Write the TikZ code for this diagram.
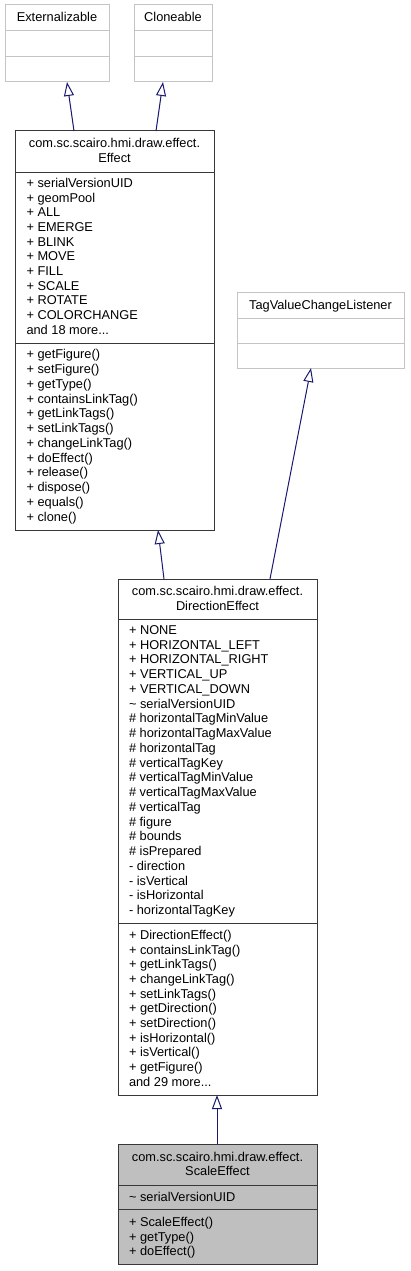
\documentclass[tikz,border=0pt]{standalone}
\usepackage{fontspec}
\setmainfont{Liberation Sans}
\usetikzlibrary{arrows.meta,calc}
\definecolor{navyc}{HTML}{191970}
\definecolor{boxgray}{HTML}{BFBFBF}
\definecolor{ifgray}{HTML}{C4C4C4}
\newcommand{\ellipdots}{...}
\begin{document}
\begin{tikzpicture}[x=1pt,y=-1pt,
  every node/.style={font=\fontsize{12.8}{14.7}\selectfont, inner sep=0pt, outer sep=0pt},
  classbox/.style={draw=black!78, line width=1pt, fill=white, rectangle, anchor=north west},
  ifacebox/.style={draw=ifgray, line width=1pt, fill=white, rectangle, anchor=north west},
  cdiv/.style={draw=black!78, line width=1pt},
  idiv/.style={draw=ifgray, line width=1pt},
  member/.style={anchor=base west},
  ttl/.style={anchor=base},
  inherit/.style={draw=navyc, line width=1pt, -{Triangle[open, length=14pt, width=10pt]}}]
\useasboundingbox (0,0) rectangle (410,1271);

% interfaces
\node[ifacebox, minimum width=104pt, minimum height=77pt] (ext) at (5,5) {};
\draw[idiv] (5,31) -- (109,31) (5,57) -- (109,57);
\node[ttl] (extT) at (57,22) {Externalizable};

\node[ifacebox, minimum width=78pt, minimum height=77pt] (clo) at (134,5) {};
\draw[idiv] (134,31) -- (212,31) (134,57) -- (212,57);
\node[ttl] (cloT) at (173,22) {Cloneable};

\node[ifacebox, minimum width=167pt, minimum height=76pt] (tag) at (237,292) {};
\draw[idiv] (237,318) -- (404,318) (237,343) -- (404,343);
\node[ttl] (tagT) at (320.5,309) {TagValueChangeListener};

% Effect
\node[classbox, minimum width=199pt, minimum height=399pt] (eff) at (15,131) {};
\draw[cdiv] (15,172) -- (214,172) (15,343) -- (214,343);
\node[ttl] (effT1) at (114.5,147.8) {com.sc.scairo.hmi.draw.effect.};
\node[ttl] (effT2) at (114.5,162) {Effect};
\foreach \t [count=\i] in {+ serialVersionUID,+ geomPool,+ ALL,+ EMERGE,+ BLINK,+ MOVE,+ FILL,+ SCALE,+ ROTATE,+ COLORCHANGE,and 18 more\ellipdots}
  \node[member] (effA\i) at (26.5,{187.5+14.67*(\i-1)}) {\t};
\foreach \t [count=\i] in {+ getFigure(),+ setFigure(),+ getType(),+ containsLinkTag(),+ getLinkTags(),+ setLinkTags(),+ changeLinkTag(),+ doEffect(),+ release(),+ dispose(),+ equals(),+ clone()}
  \node[member] (effM\i) at (26.5,{358.8+14.76*(\i-1)}) {\t};

% DirectionEffect
\node[classbox, minimum width=199pt, minimum height=516pt] (dir) at (118,579) {};
\draw[cdiv] (118,619) -- (317,619) (118,923.3) -- (317,923.3);
\node[ttl] (dirT1) at (217.5,595.5) {com.sc.scairo.hmi.draw.effect.};
\node[ttl] (dirT2) at (217.5,610) {DirectionEffect};
\foreach \t [count=\i] in {+ NONE,+ HORIZONTAL\_LEFT,+ HORIZONTAL\_RIGHT,+ VERTICAL\_UP,+ VERTICAL\_DOWN,\textasciitilde\ serialVersionUID,\# horizontalTagMinValue,\# horizontalTagMaxValue,\# horizontalTag,\# verticalTagKey,\# verticalTagMinValue,\# verticalTagMaxValue,\# verticalTag,\# figure,\# bounds,\# isPrepared,- direction,- isVertical,- isHorizontal,- horizontalTagKey}
  \node[member] (dirA\i) at (129,{634.5+14.74*(\i-1)}) {\t};
\foreach \t [count=\i] in {+ DirectionEffect(),+ containsLinkTag(),+ getLinkTags(),+ changeLinkTag(),+ setLinkTags(),+ getDirection(),+ setDirection(),+ isHorizontal(),+ isVertical(),+ getFigure(),and 29 more\ellipdots}
  \node[member] (dirM\i) at (129,{939.5+14.67*(\i-1)}) {\t};

% ScaleEffect
\node[classbox, fill=boxgray, minimum width=199pt, minimum height=120pt] (scl) at (118,1144) {};
\draw[cdiv] (118,1185) -- (317,1185) (118,1209.3) -- (317,1209.3);
\node[ttl] (sclT1) at (217.5,1161.3) {com.sc.scairo.hmi.draw.effect.};
\node[ttl] (sclT2) at (217.5,1175.3) {ScaleEffect};
\node[member] (sclA1) at (129,1201.2) {\textasciitilde\ serialVersionUID};
\foreach \t [count=\i] in {+ ScaleEffect(),+ getType(),+ doEffect()}
  \node[member] (sclM\i) at (129,{1226.8+14.2*(\i-1)}) {\t};

% inheritance arrows
\draw[inherit] ([xshift=59pt]eff.north west) -- ([xshift=62pt]ext.south west);
\draw[inherit] ([xshift=141pt]eff.north west) -- ([xshift=29pt]clo.south west);
\draw[inherit] ([xshift=46pt]dir.north west) -- ([xshift=143pt]eff.south west);
\draw[inherit] ([xshift=152pt]dir.north west) -- ([xshift=74pt]tag.south west);
\draw[inherit] ([xshift=99pt]scl.north west) -- ([xshift=99pt]dir.south west);
\end{tikzpicture}
\end{document}
